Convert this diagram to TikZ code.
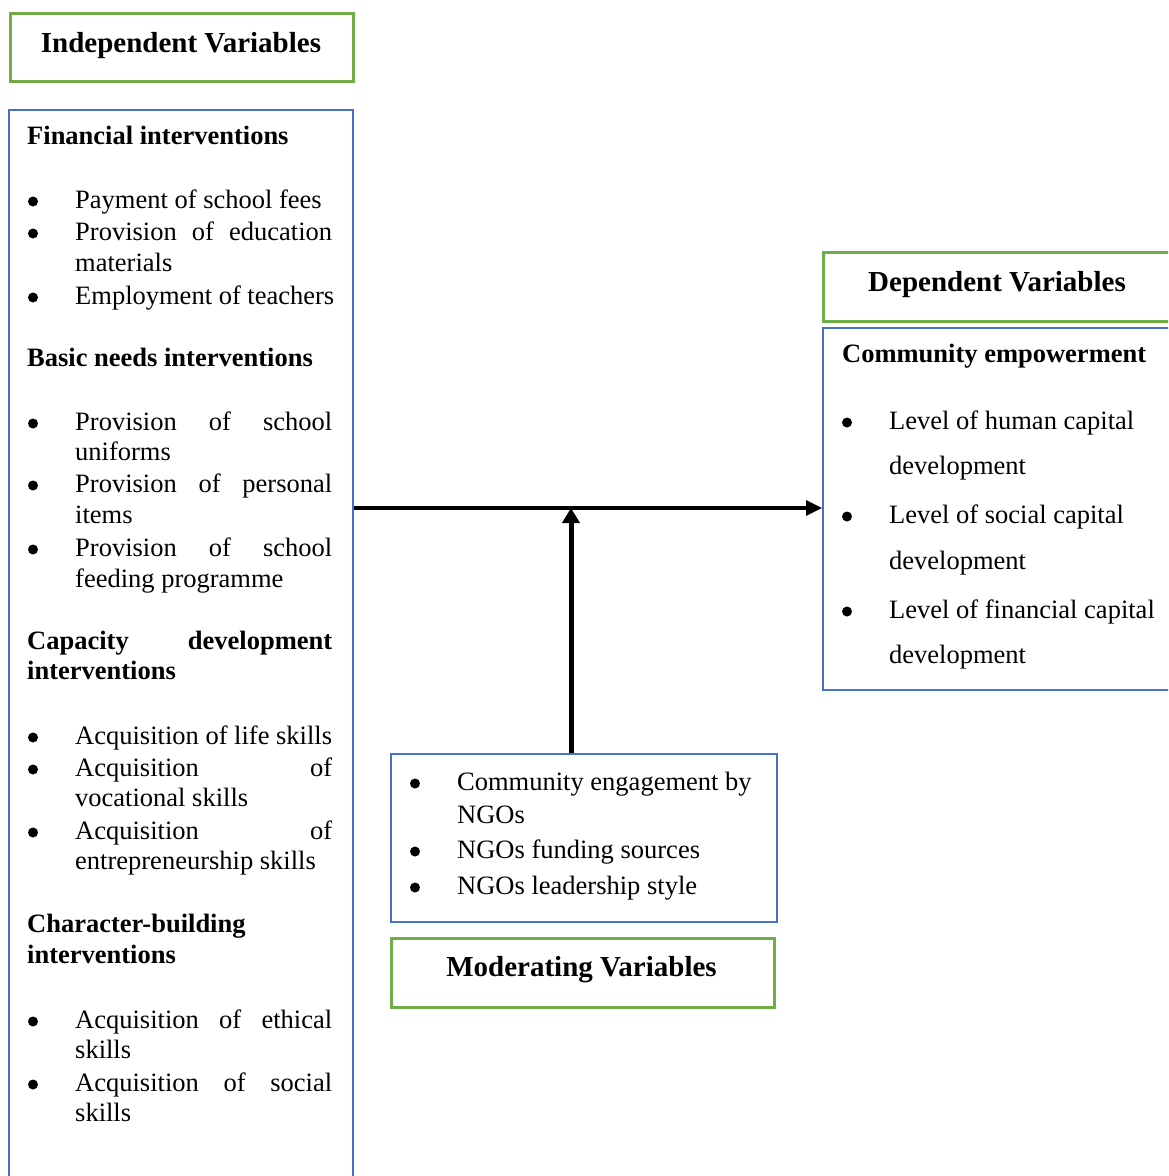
\documentclass[tikz,border=0pt]{standalone}
\usepackage{fontspec}
\setmainfont{Liberation Serif}
\usetikzlibrary{arrows.meta}
\definecolor{boxgreen}{HTML}{70AD47}
\definecolor{boxblue}{HTML}{4472C4}
\newcommand{\jst}[2]{\hbox to #1pt{#2}}
\newcommand{\bitem}[4]{%
  \node[dotmark] (#1b) at (#2-42,#3-7) {};
  \node[txt] (#1) at (#2,#3) {#4};}
\begin{document}
\begin{tikzpicture}[x=1pt,y=-1pt,
  gbox/.style={draw=boxgreen, line width=2.8pt, rectangle, inner sep=0pt, anchor=north west},
  bbox/.style={draw=boxblue, line width=2pt, rectangle, inner sep=0pt, anchor=north west},
  txt/.style={anchor=base west, inner sep=0pt, yshift=-1.5pt, font=\fontsize{26.5}{31}\selectfont},
  btxt/.style={anchor=base west, inner sep=0pt, yshift=-1.5pt, font=\fontsize{26.5}{31}\selectfont\bfseries},
  headtxt/.style={anchor=base, inner sep=0pt, yshift=-1pt, font=\fontsize{29}{34}\selectfont\bfseries},
  dotmark/.style={circle, fill=black, inner sep=0pt, yshift=-1.5pt, minimum size=10pt},
  conn/.style={line width=3.2pt, -{Triangle[length=16pt,width=15pt]}},
  connv/.style={line width=5pt, -{Triangle[length=15pt,width=17pt]}},
]
\path[use as bounding box] (0,0) rectangle (1168,1176);
\clip (0,0) rectangle (1168,1176);

% boxes
\node[gbox, minimum width=343pt, minimum height=68pt] (indT) at (9,12) {};
\node[bbox, minimum width=344pt, minimum height=1081pt] (indep) at (8,109) {};
\node[gbox, minimum width=368pt, minimum height=69pt] (depT) at (822,251) {};
\node[bbox, minimum width=368pt, minimum height=362pt] (depB) at (822,327) {};
\node[bbox, minimum width=386pt, minimum height=168pt] (modB) at (390,753) {};
\node[gbox, minimum width=383pt, minimum height=69pt] (modT) at (390,937) {};

% headings
\node[headtxt] (indH) at (181,51) {Independent Variables};
\node[headtxt] (depH) at (997,290) {Dependent Variables};
\node[headtxt] (modH) at (581.5,975) {Moderating Variables};

% left column
\node[btxt] (fin) at (27,143) {Financial interventions};
\bitem{f1}{75}{207}{Payment of school fees}
\bitem{f2}{75}{239}{\jst{257}{Provision\hfill of\hfill education}}
\node[txt] (f2c) at (75,270) {materials};
\bitem{f3}{75}{303}{Employment of teachers}

\node[btxt] (bas) at (27,365) {Basic needs interventions};
\bitem{b1}{75}{429}{\jst{257}{Provision\hfill of\hfill school}}
\node[txt] (b1c) at (75,459) {uniforms};
\bitem{b2}{75}{491}{\jst{257}{Provision\hfill of\hfill personal}}
\node[txt] (b2c) at (75,522) {items};
\bitem{b3}{75}{555}{\jst{257}{Provision\hfill of\hfill school}}
\node[txt] (b3c) at (75,586) {feeding programme};

\node[btxt] (cap) at (27,648) {\jst{305}{Capacity\hfill development}};
\node[btxt] (capc) at (27,678) {interventions};
\bitem{c1}{75}{743}{Acquisition of life skills}
\bitem{c2}{75}{775}{\jst{257}{Acquisition\hfill of}}
\node[txt] (c2c) at (75,805) {vocational skills};
\bitem{c3}{75}{838}{\jst{257}{Acquisition\hfill of}}
\node[txt] (c3c) at (75,868) {entrepreneurship skills};

\node[btxt] (chr) at (27,931) {Character-building};
\node[btxt] (chrc) at (27,962) {interventions};
\bitem{h1}{75}{1027}{\jst{257}{Acquisition\hfill of\hfill ethical}}
\node[txt] (h1c) at (75,1057) {skills};
\bitem{h2}{75}{1090}{\jst{257}{Acquisition\hfill of\hfill social}}
\node[txt] (h2c) at (75,1120) {skills};

% right column
\node[btxt] (com) at (842,361) {Community empowerment};
\bitem{d1}{889}{428}{Level of human capital}
\node[txt] (d1c) at (889,473) {development};
\bitem{d2}{889}{522}{Level of social capital}
\node[txt] (d2c) at (889,568) {development};
\bitem{d3}{889}{617}{Level of financial capital}
\node[txt] (d3c) at (889,662) {development};

% moderating
\bitem{m1}{457}{789}{Community engagement by}
\node[txt] (m1c) at (457,822) {NGOs};
\bitem{m2}{457}{857}{NGOs funding sources}
\bitem{m3}{457}{893}{NGOs leadership style}

% connectors
\coordinate (jn) at (571,508);
\draw[conn] (indep.east |- jn) -- (depB.west |- jn);
\draw[connv] (modB.north -| jn) -- (jn);
\end{tikzpicture}
\end{document}
